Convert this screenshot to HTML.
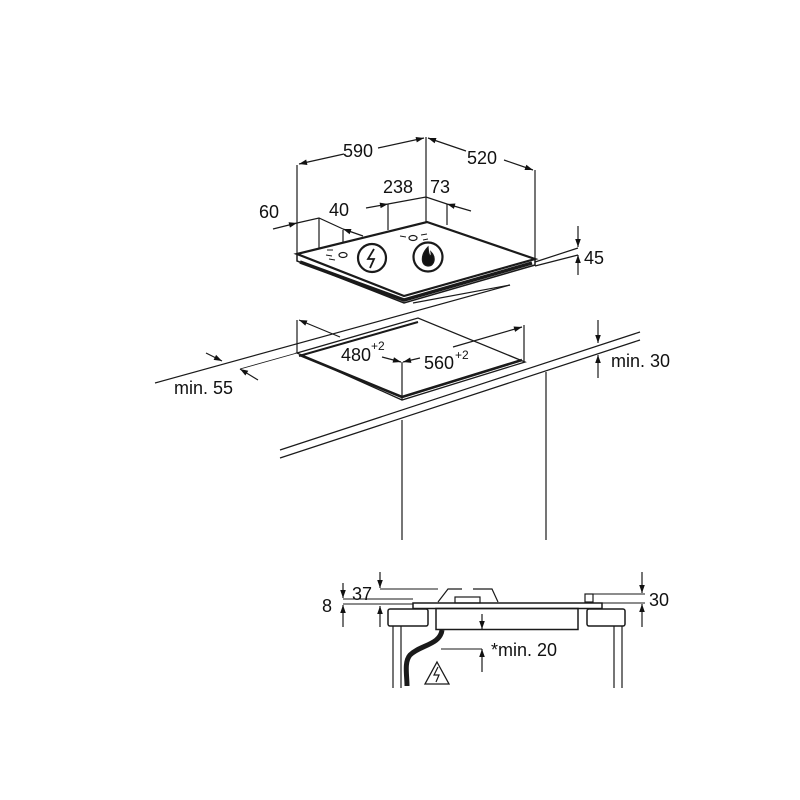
<!DOCTYPE html>
<html><head><style>body{margin:0;background:#fff}svg{display:block}text{font-family:"Liberation Sans",Arial,sans-serif;fill:#111}</style></head>
<body>
<svg width="800" height="800" viewBox="0 0 800 800" xmlns="http://www.w3.org/2000/svg">
<defs>
<marker id="a" viewBox="0 0 10 10" refX="10" refY="5" markerWidth="9" markerHeight="8" orient="auto-start-reverse" markerUnits="userSpaceOnUse"><path d="M0,1.5 L10,5 L0,8.5z" fill="#111"/></marker>
</defs>
<g stroke="#1a1a1a" fill="none" stroke-width="1.2">
<line x1="297" y1="165" x2="297" y2="254"/>
<line x1="426" y1="137" x2="426" y2="222"/>
<line x1="535" y1="170" x2="535" y2="258"/>
<line x1="319" y1="218" x2="319" y2="248"/>
<line x1="343" y1="230" x2="343" y2="253"/>
<line x1="388" y1="204" x2="388" y2="230"/>
<line x1="447" y1="204" x2="447" y2="225"/>
<polyline points="299,164 344,154" marker-start="url(#a)"/>
<polyline points="378,148 424,138" marker-end="url(#a)"/>
<polyline points="428,138 466,151" marker-start="url(#a)"/>
<polyline points="504,160 533,170" marker-end="url(#a)"/>
<polyline points="366,208 388,204" marker-end="url(#a)"/>
<polyline points="388,204 426,197 447,204"/>
<polyline points="471,211 447,204" marker-end="url(#a)"/>
<polyline points="273,229 297,223" marker-end="url(#a)"/>
<polyline points="297,223 319,218 343,229"/>
<polyline points="363,236 343,229" marker-end="url(#a)"/>
<polygon points="297,254 427,222 535,259 404,296" stroke-width="2.2" fill="#fff"/>
<path d="M297,255 L297,261 L404,303 L535,265 L535,259" stroke-width="1.5"/>
<path d="M300,262 L404,300 L532,263" stroke-width="3.5"/>
<line x1="413" y1="303" x2="510" y2="285"/>
<line x1="535" y1="262" x2="578" y2="248"/>
<line x1="535" y1="266" x2="578" y2="255"/>
<line x1="578" y1="226" x2="578" y2="247" marker-end="url(#a)"/>
<line x1="578" y1="275" x2="578" y2="255" marker-end="url(#a)"/>
<ellipse cx="343" cy="255" rx="4" ry="2.5"/>
<ellipse cx="413" cy="238" rx="4" ry="2.5"/>
<path d="M327,250 l6,0 M326,255 l6,1 M329,259 l6,1 M400,236 l6,1 M421,235 l6,-1 M423,240 l5,-1" stroke-width="0.9"/>
<circle cx="372" cy="258" r="14" stroke-width="2.2"/>
<path d="M374,249 L368,259 L374,259 L370,268" stroke-width="1.8"/>
<circle cx="428" cy="257" r="14.5" stroke-width="2.2"/>
<path d="M428,247 C420,255 421,266 428,266 C435,266 436,257 431,252 C432,257 429,259 428,247z" fill="#111"/>
<line x1="155" y1="383" x2="510" y2="285"/>
<line x1="240" y1="369" x2="297" y2="353" stroke-width="0.9"/>
<line x1="297" y1="320" x2="297" y2="353"/>
<line x1="524" y1="325" x2="524" y2="362"/>
<polygon points="297,353 418,318 525,362 402,400" stroke-width="1.3"/>
<path d="M299,356 L418,322" stroke-width="2"/>
<path d="M300,355 L402,397 L522,360" stroke-width="2.6"/>
<line x1="402" y1="362" x2="402" y2="400"/>
<line x1="340" y1="337" x2="299" y2="320" marker-end="url(#a)"/>
<line x1="453" y1="347" x2="522" y2="327" marker-end="url(#a)"/>
<line x1="382" y1="357" x2="401" y2="362" marker-end="url(#a)"/>
<line x1="420" y1="358" x2="403" y2="362" marker-end="url(#a)"/>
<line x1="206" y1="353" x2="222" y2="361" marker-end="url(#a)"/>
<line x1="258" y1="380" x2="240" y2="369" marker-end="url(#a)"/>
<line x1="280" y1="450" x2="640" y2="332"/>
<line x1="280" y1="458" x2="640" y2="340"/>
<line x1="402" y1="420" x2="402" y2="540"/>
<line x1="546" y1="372" x2="546" y2="540"/>
<line x1="598" y1="320" x2="598" y2="343" marker-end="url(#a)"/>
<line x1="598" y1="378" x2="598" y2="355" marker-end="url(#a)"/>
<rect x="413" y="603" width="189" height="5.5" stroke-width="1.5" fill="#fff"/>
<polyline points="438,602 448,589 462,589"/>
<polyline points="473,589 492,589 498,602"/>
<rect x="455" y="597" width="25" height="6"/>
<rect x="585" y="594" width="8" height="8"/>
<rect x="436" y="608.5" width="142" height="21" stroke-width="1.5"/>
<rect x="388" y="609" width="40" height="17" rx="2" stroke-width="1.5"/>
<rect x="587" y="609" width="38" height="17" rx="2" stroke-width="1.5"/>
<line x1="393" y1="626" x2="393" y2="688"/><line x1="401" y1="626" x2="401" y2="688"/>
<line x1="614" y1="626" x2="614" y2="688"/><line x1="622" y1="626" x2="622" y2="688"/>
<path d="M442,630 C440,645 420,645 410,655 C404,662 407,675 407,686" stroke-width="5"/>
<polygon points="437,662 449,684 425,684" stroke-width="1.3"/>
<path d="M438,667 L434,675 L439,675 L436,682" stroke-width="1.2"/>
<line x1="482" y1="614" x2="482" y2="629" marker-end="url(#a)"/>
<line x1="482" y1="672" x2="482" y2="649" marker-end="url(#a)"/>
<line x1="441" y1="649" x2="482" y2="649" stroke-width="0.9"/>
<line x1="380" y1="589" x2="438" y2="589" stroke-width="0.9"/>
<line x1="380" y1="572" x2="380" y2="588" marker-end="url(#a)"/>
<line x1="380" y1="627" x2="380" y2="606" marker-end="url(#a)"/>
<line x1="343" y1="599" x2="413" y2="599" stroke-width="0.9"/>
<line x1="343" y1="604" x2="413" y2="604" stroke-width="0.9"/>
<line x1="343" y1="583" x2="343" y2="598" marker-end="url(#a)"/>
<line x1="343" y1="627" x2="343" y2="605" marker-end="url(#a)"/>
<line x1="593" y1="594" x2="645" y2="594" stroke-width="0.9"/>
<line x1="602" y1="603" x2="645" y2="603" stroke-width="0.9"/>
<line x1="642" y1="572" x2="642" y2="593" marker-end="url(#a)"/>
<line x1="642" y1="627" x2="642" y2="604" marker-end="url(#a)"/>
</g>
<g font-size="18">
<text x="343" y="157">590</text>
<text x="467" y="164">520</text>
<text x="383" y="193">238</text>
<text x="430" y="193">73</text>
<text x="259" y="218">60</text>
<text x="329" y="216">40</text>
<text x="584" y="264">45</text>
<text x="341" y="361">480</text><text x="371" y="350" font-size="12">+2</text>
<text x="424" y="369">560</text><text x="455" y="359" font-size="12">+2</text>
<text x="174" y="394">min. 55</text>
<text x="611" y="367">min. 30</text>
<text x="352" y="600">37</text>
<text x="322" y="612">8</text>
<text x="649" y="606">30</text>
<text x="491" y="656">*min. 20</text>
</g>
</svg>
</body></html>
